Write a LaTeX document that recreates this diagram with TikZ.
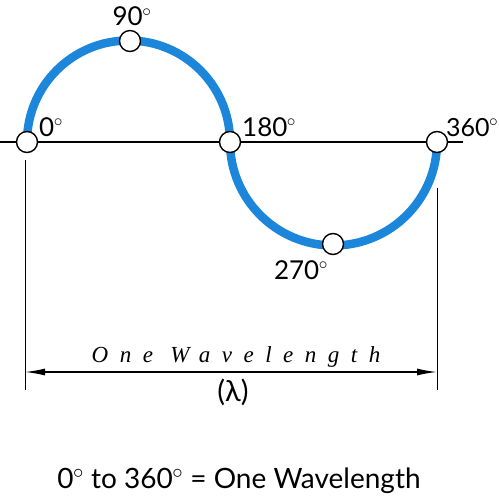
\documentclass[tikz,border=0pt]{standalone}
\usepackage{fontspec}
\setmainfont{Lato}
\newfontfamily\dimfont{Liberation Serif}
\usetikzlibrary{arrows.meta}
\definecolor{waveblue}{RGB}{28,134,218}
\newcommand{\dg}{\kern-0.5pt\ensuremath{^{\circ}}}
\tikzset{
  pt/.style={circle,draw=black,fill=white,line width=1.4pt,minimum size=21pt,inner sep=0pt},
  wave/.style={waveblue,line width=8.5pt},
  lbl/.style={font=\fontsize{26}{26}\selectfont,inner sep=0pt},
  thin/.style={line width=0.8pt}
}
\begin{document}
\begin{tikzpicture}[x=1pt,y=-1pt]
\useasboundingbox (0,0) rectangle (498,500);
\coordinate (axL) at (0,142);
\coordinate (axR) at (463,142);
\draw[line width=1.6pt] (axL) -- (axR);
% wave
\draw[wave] (27,142) arc[start angle=180,end angle=360,radius=101.5];
\draw[wave] (230,142) arc[start angle=180,end angle=0,radius=103.5];
% points
\node[pt] (p0) at (27,142) {};
\node[pt] (p90) at (130,41) {};
\node[pt] (p180) at (230,142) {};
\node[pt] (p270) at (333,244) {};
\node[pt] (p360) at (437,142) {};
% labels
\node[lbl,anchor=base west] (l0) at (39,136) {0\dg};
\node[lbl,anchor=base] (l90) at (132,26) {90\dg};
\node[lbl,anchor=base west] (l180) at (242,136) {180\dg};
\node[lbl,anchor=base west,font=\fontsize{25}{25}\selectfont] (l360) at (446,136) {360\dg};
\node[lbl,anchor=base] (l270) at (301,279) {270\dg};
% dimension
\coordinate (eL1) at (25,160);
\coordinate (eL2) at (25,390);
\coordinate (eR1) at (437,188);
\coordinate (eR2) at (437,390);
\draw[thin] (eL1) -- (eL2);
\draw[thin] (eR1) -- (eR2);
\coordinate (aL) at (25,372);
\coordinate (aR) at (437,372);
\draw[line width=1.4pt,{Latex[length=20pt,width=7pt]}-{Latex[length=20pt,width=7pt]}] (aL) -- (aR);
\node[inner sep=0pt,anchor=base] (wl) at (236,362) {\dimfont\itshape\fontsize{23}{23}\selectfont\addfontfeatures{LetterSpace=50}One Wavelength};
\node[inner sep=0pt,anchor=base] (lam) at (233,401) {\fontsize{29}{29}\selectfont(λ)};
\node[inner sep=0pt,anchor=base] (cap) at (239,488) {\fontsize{28}{28}\selectfont 0\dg{} to 360\dg{} = One Wavelength};
\end{tikzpicture}
\end{document}
